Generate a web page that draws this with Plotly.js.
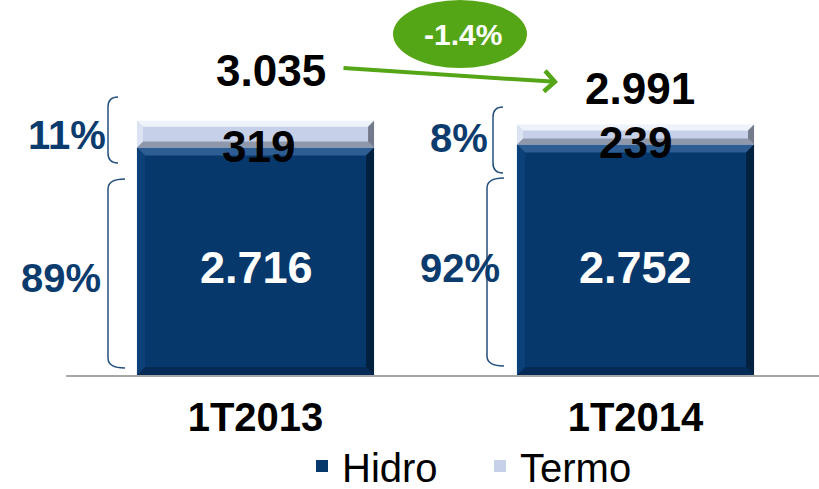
<!DOCTYPE html>
<html><head><meta charset="utf-8">
<script src="https://cdn.plot.ly/plotly-3.0.1.min.js"></script>
<style>html,body{margin:0;padding:0;background:#fff;} #chart{width:819px;height:489px;}</style>
</head><body><div id="chart"></div>
<script>
// ---- data ----
const categories = ['1T2013', '1T2014'];
const seriesNames = ['Hidro', 'Termo'];
const hidro = [2716, 2752];
const termo = [319, 239];
const totals = [3035, 2991];
const hidroLabels = ['2.716', '2.752'];
const termoLabels = ['319', '239'];
const totalLabels = ['3.035', '2.991'];
const hidroPct = ['89%', '92%'];
const termoPct = ['11%', '8%'];
const changeLabel = '-1.4%';

// ---- layout constants ----
const W = 819, H = 489, M = {l: 66, r: 0, t: 40, b: 114};
const plotW = W - M.l - M.r, plotH = H - M.t - M.b;
const yMax = 4000, xRange = [-0.4987, 1.4829];
const bargap = 0.376;
const pxPerY = plotH / yMax, pxPerX = plotW / (xRange[1] - xRange[0]);
const FONT = 'Liberation Sans, Arial, Helvetica, sans-serif';
const NAVY = '#07386C', SILVER = '#C6D1E9', GREEN = '#55A617', PCT = '#0C3C6E', BRACE = '#24507F';
const px = x => (x - M.l) / plotW;          // pixel -> paper x
const py = y => (H - M.b - y) / plotH;      // pixel -> paper y

const traces = [
  {type: 'bar', name: seriesNames[0], x: categories, y: hidro,
   marker: {color: NAVY, line: {width: 0}}, hoverinfo: 'skip'},
  {type: 'bar', name: seriesNames[1], x: categories, y: termo,
   marker: {color: SILVER, line: {width: 0}}, hoverinfo: 'skip'}
];

// ---- bevel shapes derived from data ----
const shapes = [];
const half = (1 - bargap) / 2;
function poly(pts, color) {
  shapes.push({type: 'path', xref: 'x', yref: 'y', layer: 'above', line: {width: 0}, fillcolor: color,
    path: 'M' + pts.map(p => p[0].toFixed(5) + ',' + p[1].toFixed(3)).join('L') + 'Z'});
}
function bevel(i, y0, y1, c, size) {
  const xl = i - half, xr = i + half;
  const bx = size / pxPerX, dy = size / pxPerY;
  poly([[xl, y1], [xr, y1], [xr - bx, y1 - dy], [xl + bx, y1 - dy]], c.top);
  poly([[xl, y0], [xr, y0], [xr - bx, y0 + dy], [xl + bx, y0 + dy]], c.bot);
  poly([[xl, y1], [xl + bx, y1 - dy], [xl + bx, y0 + dy], [xl, y0]], c.left);
  poly([[xr, y1], [xr - bx, y1 - dy], [xr - bx, y0 + dy], [xr, y0]], c.right);
}
const hidroBevel = {top: '#2D5D92', bot: '#042A55', left: '#0B4079', right: '#02213F'};
const termoBevel = {top: '#EEF2FA', bot: '#8F97AA', left: '#DCE3F2', right: '#737A8B'};
categories.forEach((c, i) => {
  bevel(i, 0, hidro[i], hidroBevel, 8);
  bevel(i, hidro[i], hidro[i] + termo[i], termoBevel, 6);
});

// ---- braces (decoration, pixel positions) ----
function brace(xl, xr, yt, yb) {
  const r = 10;
  const P = (x, y) => px(x).toFixed(5) + ',' + py(y).toFixed(5);
  shapes.push({type: 'path', xref: 'paper', yref: 'paper', line: {color: BRACE, width: 1.5},
    path: 'M' + P(xr, yt) + ' Q' + P(xl, yt) + ' ' + P(xl, yt + r) + ' L' + P(xl, yb - r) +
          ' Q' + P(xl, yb) + ' ' + P(xr, yb)});
}
brace(108, 118, 97, 163);
brace(108, 125, 179, 368);
brace(493, 503, 107, 173);
brace(487, 504, 178, 366);

// ---- green ellipse ----
shapes.push({type: 'circle', xref: 'paper', yref: 'paper', layer: 'above',
  x0: px(393), x1: px(527), y0: py(68), y1: py(0), fillcolor: GREEN, line: {width: 0}});

// ---- annotations ----
const annotations = [];
const totalShift = [[15.5, 50.8], [4, 36.5]];
const termoShift = [[2.5, -12.8], [0, -7.5]];
const hidroShift = [[0.5, -6.7], [0, -8.2]];
const termoPctShift = [[-147.5, -0.8], [-146, -3.5]];
const hidroPctShift = [[-152.5, -16.7], [-134, -8.2]];
categories.forEach((c, i) => {
  annotations.push({x: i, y: totals[i], xref: 'x', yref: 'y', text: totalLabels[i], showarrow: false,
    xshift: totalShift[i][0], yshift: totalShift[i][1], xanchor: 'center', yanchor: 'middle',
    font: {family: FONT, size: 44, color: '#000', weight: 'bold'}});
  annotations.push({x: i, y: hidro[i] + termo[i] / 2, xref: 'x', yref: 'y', text: termoLabels[i], showarrow: false,
    xshift: termoShift[i][0], yshift: termoShift[i][1], xanchor: 'center', yanchor: 'middle',
    font: {family: FONT, size: 44, color: '#000', weight: 'bold'}});
  annotations.push({x: i, y: hidro[i] / 2, xref: 'x', yref: 'y', text: hidroLabels[i], showarrow: false,
    xshift: hidroShift[i][0], yshift: hidroShift[i][1], xanchor: 'center', yanchor: 'middle',
    font: {family: FONT, size: 45, color: '#fff', weight: 'bold'}});
  annotations.push({x: i, y: hidro[i] + termo[i] / 2, xref: 'x', yref: 'y', text: termoPct[i], showarrow: false,
    xanchor: 'right', xshift: termoPctShift[i][0], yshift: termoPctShift[i][1], yanchor: 'middle',
    font: {family: FONT, size: 40, color: PCT, weight: 'bold'}});
  annotations.push({x: i, y: hidro[i] / 2, xref: 'x', yref: 'y', text: hidroPct[i], showarrow: false,
    xanchor: 'right', xshift: hidroPctShift[i][0], yshift: hidroPctShift[i][1], yanchor: 'middle',
    font: {family: FONT, size: 40, color: PCT, weight: 'bold'}});
});
// arrow
annotations.push({xref: 'paper', yref: 'paper', x: px(558), y: py(82), ax: -216, ay: -14, text: '',
  showarrow: true, arrowhead: 4, arrowsize: 1, arrowwidth: 4, arrowcolor: GREEN, standoff: 0});
// change label
annotations.push({xref: 'paper', yref: 'paper', x: px(463), y: py(35), text: changeLabel, showarrow: false,
  xanchor: 'center', yanchor: 'middle',
  font: {family: FONT, size: 30, color: '#fff', weight: 'bold'}});

const layout = {
  width: W, height: H, margin: Object.assign({autoexpand: false}, M),
  paper_bgcolor: '#fff', plot_bgcolor: '#fff',
  barmode: 'stack', bargap: bargap,
  showlegend: true,
  legend: {orientation: 'h', traceorder: 'normal', xref: 'container', yref: 'container',
    x: 302 / W, xanchor: 'left', y: 1 - 466 / H, yanchor: 'middle',
    font: {family: FONT, size: 40, color: '#000'}, entrywidth: 133, entrywidthmode: 'pixels',
    bgcolor: 'rgba(0,0,0,0)'},
  xaxis: {type: 'category', range: xRange, showline: true, linecolor: '#A6A6A6', linewidth: 2,
    showgrid: false, zeroline: false, ticks: '', fixedrange: true, automargin: false,
    tickfont: {family: FONT, size: 40, color: '#000', weight: 'bold'}, ticklabelstandoff: 6},
  yaxis: {range: [0, yMax], visible: false, showgrid: false, zeroline: false, fixedrange: true},
  shapes: shapes,
  annotations: annotations
};

Plotly.newPlot('chart', traces, layout, {staticPlot: true, displayModeBar: false});
</script>
</body></html>
